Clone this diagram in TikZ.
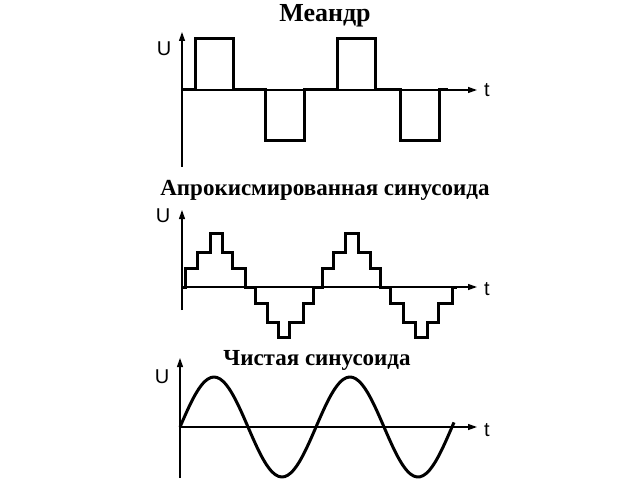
\documentclass[tikz,border=0pt]{standalone}
\usepackage{fontspec}
\setmainfont{Liberation Serif}
\newfontfamily\labelfont{Liberation Sans}
\usetikzlibrary{arrows.meta, positioning}
\tikzset{
	axis/.style={line width=1.2pt, -{Triangle[length=9pt, width=6pt]}},
	signal/.style={line width=3pt, line join=miter},
	title/.style={font=\bfseries\fontsize{23}{26}\selectfont},
	axlabel/.style={font=\labelfont\fontsize{20}{22}\selectfont}
}
\begin{document}
\begin{tikzpicture}[x=1pt, y=-1pt]
		\useasboundingbox (0,0) rectangle (640,484);

		% Meander
		\begin{scope}
			\node (mtitle) at (325,16) [title, font=\bfseries\fontsize{26}{30}\selectfont] {Меандр};
			\coordinate (m_bot) at (182,167);
			\coordinate (m_top) at (182,32);
			\coordinate (m_org) at (182,90);
			\coordinate (m_end) at (477,90);
			\draw [axis] (m_bot) -- (m_top);
			\draw [axis] (m_org) -- (m_end);
			\node (m_u) at (164,49) [axlabel] {U};
			\node (m_t) at (487,90) [axlabel] {t};
			\draw [signal] (182,90) -- (195,90) -- (195,39) -- (233,39) -- (233,90)
				-- (265,90) -- (265,141) -- (304,141) -- (304,90)
				-- (337,90) -- (337,39) -- (375,39) -- (375,90)
				-- (400,90) -- (400,141) -- (439,141) -- (439,90) -- (448,90);
		\end{scope}

		% Approximated sine
		\begin{scope}
			\node (atitle) at (325,190) [title] {Апрокисмированная синусоида};
			\coordinate (a_bot) at (182,310);
			\coordinate (a_top) at (182,210);
			\coordinate (a_org) at (182,287);
			\coordinate (a_end) at (477,287);
			\draw [axis] (a_bot) -- (a_top);
			\draw [axis] (a_org) -- (a_end);
			\node (a_u) at (163,216) [axlabel] {U};
			\node (a_t) at (487,289) [axlabel] {t};
			\draw [signal] (182,287) -- (185,287) -- (185,268) -- (197,268) -- (197,252)
				-- (210,252) -- (210,233) -- (222,233) -- (222,252) -- (232,252)
				-- (232,268) -- (245,268) -- (245,287) -- (255,287)
				-- (255,303) -- (267,303) -- (267,322) -- (278,322) -- (278,337)
				-- (289,337) -- (289,322) -- (303,322) -- (303,303) -- (313,303)
				-- (313,287) -- (322,287) -- (322,268) -- (333,268) -- (333,252)
				-- (345,252) -- (345,233) -- (358,233) -- (358,252) -- (370,252)
				-- (370,268) -- (380,268) -- (380,287) -- (390,287)
				-- (390,303) -- (403,303) -- (403,322) -- (415,322) -- (415,337)
				-- (427,337) -- (427,322) -- (438,322) -- (438,303) -- (452,303)
				-- (452,287) -- (457,287);
		\end{scope}

		% Pure sine
		\begin{scope}
			\node (stitle) at (317,360) [title] {Чистая синусоида};
			\coordinate (s_bot) at (180,478);
			\coordinate (s_top) at (180,358);
			\coordinate (s_org) at (180,427);
			\coordinate (s_end) at (477,427);
			\draw [axis] (s_bot) -- (s_top);
			\draw [axis] (s_org) -- (s_end);
			\node (s_u) at (162,377) [axlabel] {U};
			\node (s_t) at (487,430) [axlabel] {t};
			\draw [signal, line join=round, domain=0:274, samples=90, smooth]
				plot ({180+\x}, {427-50*sin(\x/136*360)});
		\end{scope}

	\end{tikzpicture}
\end{document}
